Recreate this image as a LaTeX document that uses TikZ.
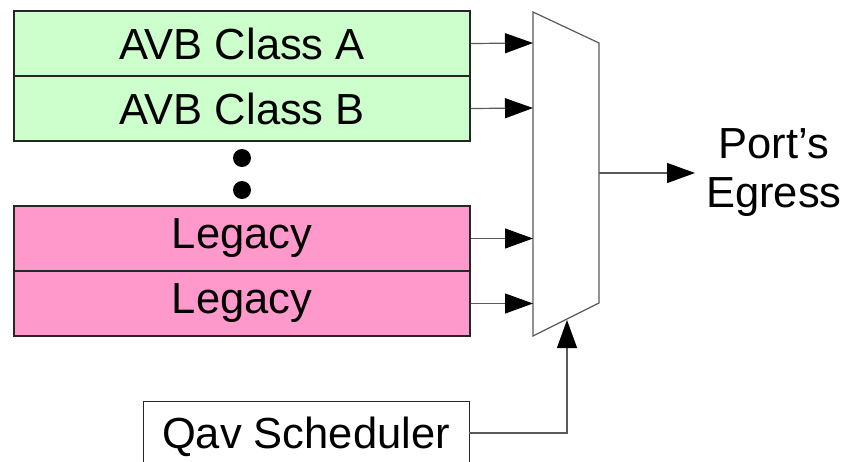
\documentclass[tikz,border=0pt]{standalone}
\usepackage{fontspec}
\setmainfont{Liberation Sans}
\usetikzlibrary{arrows.meta}
\definecolor{avbgreen}{HTML}{CCFFCC}
\definecolor{legpink}{HTML}{FF99CC}
\definecolor{linegray}{HTML}{5A5A5A}
\begin{document}
\begin{tikzpicture}[x=1pt,y=-1pt,
  big/.style={font=\fontsize{43.5}{49}\selectfont},
  queue/.style={big,draw=black!85,line width=1.2pt,minimum width=456pt,minimum height=65pt,inner sep=0pt},
  conn/.style={draw=linegray,line width=1.2pt,-{Triangle[length=28pt,width=20pt,color=black]}},
  dot/.style={circle,fill=black,minimum size=18pt,inner sep=0pt}
]
\useasboundingbox (0,0) rectangle (844,461);
\fill[white] (0,0) rectangle (844,461);
% queues
\node[queue,fill=avbgreen] (qa) at (242,43.5) {AVB Class A};
\node[queue,fill=avbgreen] (qb) at (242,108.5) {AVB Class B};
\node[queue,fill=legpink] (l1) at (242,238.5) {Legacy};
\node[queue,fill=legpink] (l2) at (242,303.5) {Legacy};
\node[dot] (d1) at (242,158) {};
\node[dot] (d2) at (242,190) {};
% scheduler
\node[draw=black!85,line width=1.2pt,minimum width=326pt,minimum height=80pt,inner sep=0pt,anchor=north west] (sch) at (143,401) {};
\node[big,anchor=base] (schtext) at (306,448) {Qav Scheduler};
% mux
\draw[draw=linegray,line width=1.2pt,fill=white] (533,12) -- (599,43) -- (599,303) -- (533,336) -- cycle;
\coordinate (m1) at (533,43);
\coordinate (m2) at (533,108);
\coordinate (m3) at (533,238.5);
\coordinate (m4) at (533,303.5);
\coordinate (mout) at (599,173);
\coordinate (mbot) at (567,320);
\coordinate (schout) at (469,433);
% egress label
\node[big,align=center,anchor=west,inner xsep=11pt,inner ysep=0pt] (eg) at (695,173) {Port’s\\Egress};
% connectors
\draw[conn] (qa.east) -- (m1);
\draw[conn] (qb.east) -- (m2);
\draw[conn] (l1.east) -- (m3);
\draw[conn] (l2.east) -- (m4);
\draw[conn] (mout) -- (eg.west);
\draw[conn] (schout) -| (mbot);
\end{tikzpicture}
\end{document}
